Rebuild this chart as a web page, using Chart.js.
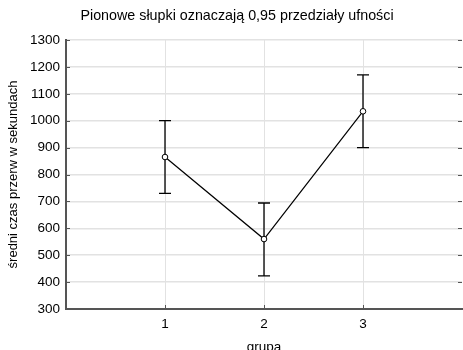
<!DOCTYPE html>
<html>
<head>
<meta charset="utf-8">
<script src="https://cdn.jsdelivr.net/npm/chart.js@4/dist/chart.umd.min.js"></script>
<style>
  html, body { margin: 0; padding: 0; background: #fff; }
  #wrap { width: 463px; height: 350px; position: relative; }
</style>
</head>
<body>
<div id="wrap"><canvas id="chart" width="463" height="350"></canvas></div>
<script>
// group means with 0.95 confidence intervals
const groups = [1, 2, 3];
const means = [865, 560, 1035];
const lower = [730, 423, 900];
const upper = [1000, 694, 1170];

const TITLE = 'Pionowe słupki oznaczają 0,95 przedziały ufności';
const FONT = '"Liberation Sans", Arial, sans-serif';

// error bars + inner tick marks + title
const extrasPlugin = {
    id: 'extras',
    afterDatasetsDraw(chart) {
        const { ctx, scales: { x, y } } = chart;
        ctx.save();
        ctx.strokeStyle = '#000';
        ctx.lineWidth = 1.3;
        groups.forEach((g, i) => {
            const px = x.getPixelForValue(g);
            const top = y.getPixelForValue(upper[i]);
            const bot = y.getPixelForValue(lower[i]);
            ctx.beginPath();
            ctx.moveTo(px, top); ctx.lineTo(px, bot);
            ctx.moveTo(px - 6, top); ctx.lineTo(px + 6, top);
            ctx.moveTo(px - 6, bot); ctx.lineTo(px + 6, bot);
            ctx.stroke();
        });
        // redraw points on top of the bars
        const meta = chart.getDatasetMeta(0);
        meta.data.forEach(pt => {
            ctx.beginPath();
            ctx.arc(pt.x, pt.y, 2.8, 0, Math.PI * 2);
            ctx.fillStyle = '#fff';
            ctx.fill();
            ctx.lineWidth = 1;
            ctx.stroke();
        });
        ctx.restore();
    },
    afterDraw(chart) {
        const { ctx, chartArea: a, scales: { x, y } } = chart;
        ctx.save();
        ctx.strokeStyle = '#555';
        ctx.lineWidth = 1;
        ctx.beginPath();
        y.ticks.forEach(t => {
            const py = Math.round(y.getPixelForValue(t.value)) + 0.5;
            ctx.moveTo(a.left, py); ctx.lineTo(a.left + 4, py);
            ctx.moveTo(a.right, py); ctx.lineTo(a.right - 4, py);
        });
        x.ticks.forEach(t => {
            const px = Math.round(x.getPixelForValue(t.value)) + 0.5;
            ctx.moveTo(px, a.bottom); ctx.lineTo(px, a.bottom - 4);
        });
        ctx.stroke();
        ctx.fillStyle = '#000';
        ctx.font = '14.3px ' + FONT;
        ctx.textAlign = 'center';
        ctx.textBaseline = 'middle';
        ctx.fillText(TITLE, 237, 16);
        ctx.restore();
    }
};

new Chart(document.getElementById('chart'), {
    type: 'scatter',
    data: {
        datasets: [{
            data: groups.map((g, i) => ({ x: g, y: means[i] })),
            showLine: true,
            borderColor: '#000',
            borderWidth: 1.2,
            pointRadius: 0,
            tension: 0
        }]
    },
    options: {
        responsive: false,
        animation: false,
        layout: { padding: { top: 40, right: 1, left: 0, bottom: 0 } },
        plugins: {
            legend: { display: false },
            tooltip: { enabled: false }
        },
        scales: {
            x: {
                type: 'linear',
                min: 0,
                max: 4,
                afterBuildTicks: s => { s.ticks = groups.map(v => ({ value: v })); },
                afterFit: s => { s.height = 41; },
                grid: { color: '#e2e2e2', lineWidth: 1, drawTicks: false },
                border: { color: '#555', width: 2 },
                ticks: {
                    padding: 7,
                    color: '#000',
                    font: { family: FONT, size: 13.5 },
                    callback: v => String(v)
                },
                title: {
                    display: true,
                    text: 'grupa',
                    color: '#000',
                    font: { family: FONT, size: 13.5 },
                    padding: { top: 0, bottom: -5 }
                }
            },
            y: {
                min: 300,
                max: 1300,
                afterFit: s => { s.width = 66; },
                grid: { color: '#e2e2e2', lineWidth: 1.5, drawTicks: false },
                border: { color: '#555', width: 2 },
                ticks: {
                    stepSize: 100,
                    padding: 6,
                    color: '#000',
                    font: { family: FONT, size: 13.5 },
                    callback: v => String(v)
                },
                title: {
                    display: true,
                    text: 'średni czas przerw w sekundach',
                    color: '#000',
                    font: { family: FONT, size: 13 },
                    padding: { top: 6, bottom: 0 }
                }
            }
        }
    },
    plugins: [extrasPlugin]
});
</script>
</body>
</html>
